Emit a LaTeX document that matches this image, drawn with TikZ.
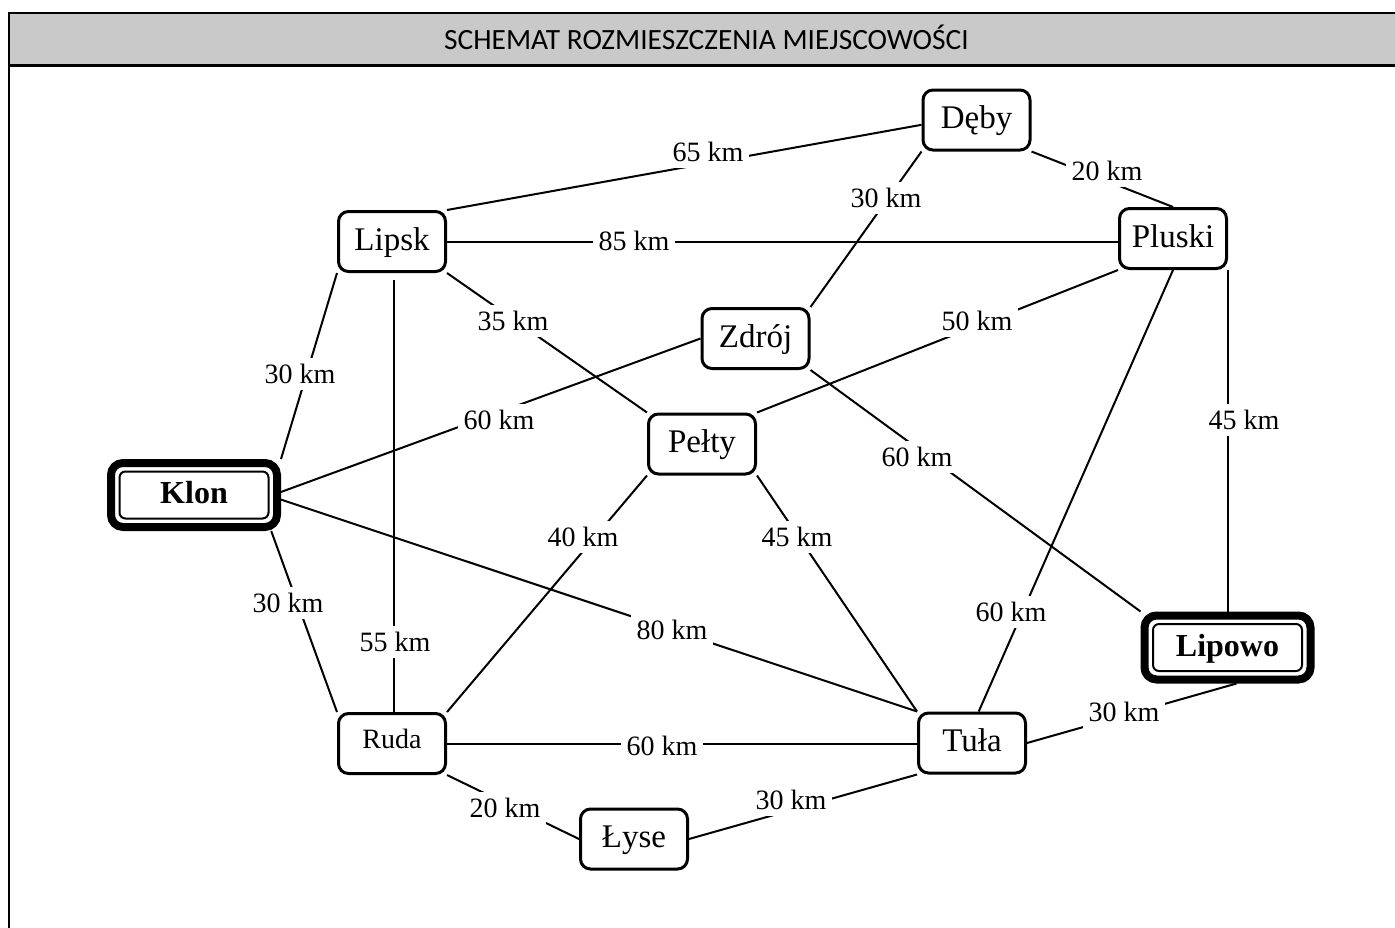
\documentclass[tikz,border=0pt]{standalone}
\usepackage{fontspec}
\setmainfont{Liberation Serif}
\newfontfamily\headfont{Carlito}
\usetikzlibrary{calc}
\definecolor{headgray}{HTML}{C9C9C9}
\tikzset{
    town/.style={draw, line width=1.5pt, rounded corners=5pt, fill=white,
        minimum width=53.5pt, minimum height=30pt, inner sep=2pt,
        font=\fontsize{16.5}{19}\selectfont, text height=1.05em, text depth=0.2em},
    bigtown/.style={town, line width=4pt, rounded corners=6pt,
        minimum width=83pt, minimum height=32pt,
        font=\fontsize{16}{19}\selectfont\bfseries},
    innerline/.style={line width=1pt, rounded corners=3pt},
    road/.style={line width=1pt},
    dist/.style={fill=white, inner sep=3pt, font=\fontsize{14}{16}\selectfont},
    frame/.style={line width=1.1pt},
}

\begin{document}
\begin{tikzpicture}[x=0.5pt, y=-0.5pt]
    \useasboundingbox (0,0) rectangle (1395,927);

    % header
    \fill[headgray] (9,13) rectangle (1410,65.5);
    \draw[frame] (1410,13) -- (9,13) -- (9,940);
    \draw[frame] (9,65.5) -- (1410,65.5);
    \node[font=\headfont\fontsize{14.7}{17}\selectfont, anchor=base] (title) at (706.5,49)
        {SCHEMAT ROZMIESZCZENIA MIEJSCOWOŚCI};

    \node[town] (deby)   at (976.5,120)   {Dęby};
    \node[town] (lipsk)  at (392,241.5)   {Lipsk};
    \node[town] (pluski) at (1173,238.5)  {Pluski};
    \node[town] (zdroj)  at (755.5,338.5) {Zdrój};
    \node[town] (pelty)  at (702,444)     {Pełty};
    \node[town, font=\fontsize{14}{16}\selectfont, text depth=0.6em] (ruda) at (392,743.5) {Ruda};
    \node[town] (tula)   at (972,743)     {Tuła};
    \node[town] (lyse)   at (634,839)     {Łyse};
    \node[bigtown] (klon)   at (194,495)     {Klon};
    \node[bigtown] (lipowo) at (1227.5,647.5) {Lipowo};

    \draw[innerline] ([shift={(6.25pt,6.25pt)}]klon.south west)
        rectangle ([shift={(-6.25pt,-6.25pt)}]klon.north east);
    \draw[innerline] ([shift={(6.25pt,6.25pt)}]lipowo.south west)
        rectangle ([shift={(-6.25pt,-6.25pt)}]lipowo.north east);

    % roads
    \draw[road] (lipsk.north east) -- (deby.185);
    \draw[road] (deby.south east) -- (pluski.north);
    \draw[road] (deby.south west) -- (zdroj.north east);
    \draw[road] (lipsk.east) -- (lipsk.east -| pluski.west);
    \draw[road] (lipsk.south west) -- (klon.north east);
    \draw[road, shorten <=3.5pt] ([xshift=1.2pt]lipsk.south) -- ([xshift=1.2pt]ruda.north);
    \draw[road] (lipsk.south east) -- (pelty.north west);
    \draw[road] (zdroj.west) -- (klon.2);
    \draw[road] (zdroj.south east) -- (lipowo.north west);
    \draw[road] (pelty.north east) -- (pluski.south west);
    \draw[road] (pelty.south west) -- (ruda.north east);
    \draw[road] (pelty.south east) -- (tula.north west);
    \draw[road] (klon.-3) -- (tula.north west);
    \draw[road] (klon.-25) -- (ruda.north west);
    \draw[road] (pluski.south) -- (tula.78);
    \draw[road] (lipowo.north |- pluski.south) -- (lipowo.north);
    \draw[road] (lipowo.-76) -- (tula.east);
    \draw[road] (ruda.east) -- (ruda.east -| tula.west);
    \draw[road] (ruda.south east) -- (lyse.west);
    \draw[road] (lyse.east) -- (tula.south west);

    % distances
    \node[dist] (d-lipsk-deby)    at (708,152)  {65 km};
    \node[dist] (d-deby-pluski)   at (1107,171) {20 km};
    \node[dist] (d-deby-zdroj)    at (886,198)  {30 km};
    \node[dist] (d-lipsk-pluski)  at (634,241)  {85 km};
    \node[dist] (d-lipsk-klon)    at (300,374)  {30 km};
    \node[dist] (d-lipsk-pelty)   at (513,321)  {35 km};
    \node[dist] (d-pelty-pluski)  at (977,321)  {50 km};
    \node[dist] (d-zdroj-klon)    at (499,420)  {60 km};
    \node[dist] (d-zdroj-lipowo)  at (917,457)  {60 km};
    \node[dist] (d-pluski-lipowo) at (1244,420) {45 km};
    \node[dist] (d-pelty-ruda)    at (583,537)  {40 km};
    \node[dist] (d-pelty-tula)    at (797,537)  {45 km};
    \node[dist] (d-klon-ruda)     at (288,603)  {30 km};
    \node[dist] (d-lipsk-ruda)    at (395,642)  {55 km};
    \node[dist] (d-klon-tula)     at (672,630)  {80 km};
    \node[dist] (d-pluski-tula)   at (1011,612) {60 km};
    \node[dist] (d-lipowo-tula)   at (1124,712) {30 km};
    \node[dist] (d-ruda-tula)     at (662,746)  {60 km};
    \node[dist] (d-ruda-lyse)     at (505,808)  {20 km};
    \node[dist] (d-lyse-tula)     at (791,800)  {30 km};
\end{tikzpicture}
\end{document}
